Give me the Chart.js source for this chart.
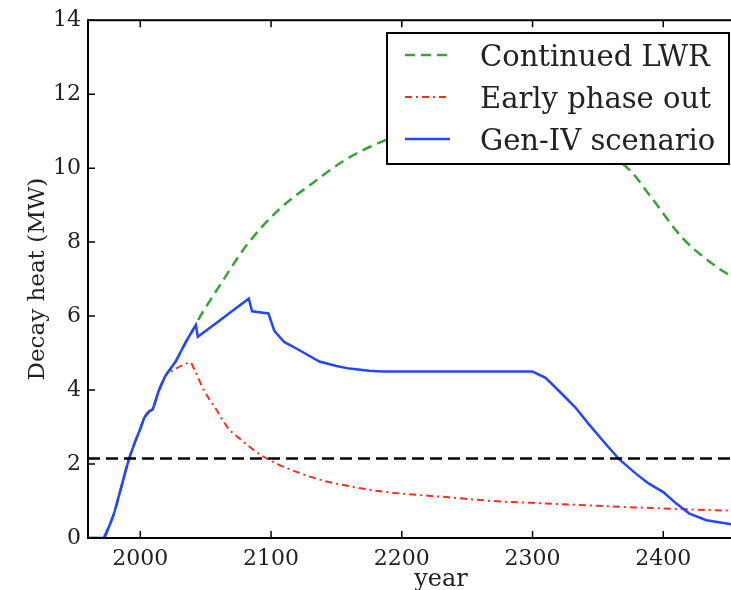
<!DOCTYPE html>
<html><head><meta charset="utf-8">
<script src="https://cdn.jsdelivr.net/npm/chart.js@4/dist/chart.umd.min.js"></script>
<style>
html,body{margin:0;padding:0;background:#fff;overflow:hidden;width:731px;height:590px}
#wrap{position:absolute;left:0;top:0;width:830px;height:600px}
</style>
</head><body><div id="wrap"><canvas id="c" width="830" height="600"></canvas></div>
<script>
// ---- data ----
const xTicks = [2000, 2100, 2200, 2300, 2400, 2500];
const yTicks = [0, 2, 4, 6, 8, 10, 12, 14];

const lwrYears = [1960,1972,1976,1980,1986,1991,1996,2000,2003,2007,2009.5,2014,2019,2027,2035,2042.5,2045,2053,2063,2081,2106,2132,2157,2185,2210,2240,2270,2300,2330,2355,2374,2390,2415,2440,2451,2475,2500];
const lwrHeat  = [0,0,0.3,0.67,1.45,2.1,2.6,2.95,3.25,3.43,3.48,3.97,4.37,4.77,5.31,5.76,5.94,6.4,6.95,7.9,8.88,9.6,10.23,10.72,11.0,11.2,11.25,11.1,10.75,10.4,9.96,9.25,8.1,7.35,7.1,6.6,6.1];

const phaseYears = [1960,1972,1976,1980,1986,1991,1996,2000,2003,2007,2009.5,2014,2019,2026,2033,2038,2042,2049,2058,2067,2078,2091,2105,2120,2140,2160,2180,2200,2236,2270,2300,2350,2400,2450,2500];
const phaseHeat  = [0,0,0.3,0.67,1.45,2.1,2.6,2.95,3.25,3.43,3.48,3.97,4.37,4.55,4.68,4.75,4.5,3.97,3.48,2.98,2.63,2.27,2.0,1.78,1.55,1.4,1.28,1.2,1.1,1.0,0.95,0.87,0.8,0.74,0.7];

const genIVYears = [1960,1972,1976,1980,1986,1991,1996,2000,2003,2007,2009.5,2014,2019,2027,2035,2042.5,2044,2060,2070,2083,2085.5,2098,2102.5,2110,2119,2137,2150,2160,2175,2185,2300,2310,2323,2333,2343,2356,2366,2379,2389,2400,2410,2420,2433,2451,2470,2500];
const genIVHeat  = [0,0,0.3,0.67,1.45,2.1,2.6,2.95,3.25,3.43,3.48,3.97,4.37,4.77,5.31,5.76,5.44,5.86,6.13,6.47,6.13,6.07,5.6,5.3,5.13,4.77,4.65,4.58,4.52,4.5,4.5,4.33,3.88,3.52,3.08,2.54,2.14,1.74,1.47,1.24,0.93,0.66,0.48,0.38,0.3,0.22];

const limitYears = [1960, 2500];
const limitHeat  = [2.15, 2.15];

const seriesLabels = ['Continued LWR', 'Early phase out', 'Gen-IV scenario'];
// ---- end data ----

const zip = (xs, ys) => xs.map((x, i) => ({x: x, y: ys[i]}));
const SERIF = '"DejaVu Serif", "Liberation Serif", serif';

const datasets = [
  {label: seriesLabels[0], data: zip(lwrYears, lwrHeat), borderColor: '#33a533', borderWidth: 2.5, borderDash: [10, 6], cubicInterpolationMode: 'monotone', order: 4, inLegend: true},
  {label: seriesLabels[1], data: zip(phaseYears, phaseHeat), borderColor: '#ff2a1a', borderWidth: 2, borderDash: [7, 4, 2, 4], cubicInterpolationMode: 'monotone', order: 3, inLegend: true},
  {label: seriesLabels[2], data: zip(genIVYears, genIVHeat), borderColor: '#2346ff', borderWidth: 2.5, borderDash: [], order: 2, inLegend: true},
  {label: 'limit', data: zip(limitYears, limitHeat), borderColor: '#000', borderWidth: 2.5, borderDash: [12, 6], order: 1, inLegend: false}
];

const framePlugin = {
  id: 'frame',
  afterDatasetsDraw(chart) {
    const {ctx, chartArea: a, scales: {x, y}} = chart;
    ctx.save();
    ctx.strokeStyle = '#000';
    ctx.lineWidth = 1.5;
    ctx.setLineDash([]);
    ctx.beginPath();
    for (const v of xTicks) {
      const px = x.getPixelForValue(v);
      ctx.moveTo(px, a.bottom); ctx.lineTo(px, a.bottom - 7);
      ctx.moveTo(px, a.top); ctx.lineTo(px, a.top + 7);
    }
    for (const v of yTicks) {
      const py = y.getPixelForValue(v);
      ctx.moveTo(a.left, py); ctx.lineTo(a.left + 7, py);
      ctx.moveTo(a.right, py); ctx.lineTo(a.right - 7, py);
    }
    ctx.stroke();
    ctx.lineWidth = 2;
    ctx.strokeRect(a.left, a.top, a.right - a.left, a.bottom - a.top);

    // legend
    const bx = 387, by = 33, bw = 342, bh = 131;
    ctx.fillStyle = '#fff';
    ctx.fillRect(bx, by, bw, bh);
    ctx.lineWidth = 2;
    ctx.strokeStyle = '#000';
    ctx.strokeRect(bx, by, bw, bh);
    const items = chart.data.datasets.filter(d => d.inLegend);
    ctx.font = '29px ' + SERIF;
    ctx.textAlign = 'left';
    ctx.textBaseline = 'alphabetic';
    items.forEach((d, i) => {
      const ry = by + 22 + i * 42;
      ctx.strokeStyle = d.borderColor;
      ctx.lineWidth = d.borderWidth;
      ctx.setLineDash(d.borderDash || []);
      ctx.beginPath();
      ctx.moveTo(bx + 18, ry); ctx.lineTo(bx + 63, ry);
      ctx.stroke();
      ctx.setLineDash([]);
      ctx.fillStyle = '#222';
      ctx.fillText(d.label, bx + 93, ry + 10.5);
    });
    ctx.restore();
  }
};

new Chart(document.getElementById('c'), {
  type: 'line',
  data: {datasets: datasets},
  options: {
    responsive: false,
    animation: false,
    devicePixelRatio: 1,
    layout: {padding: {top: 16, right: 35, left: 0, bottom: 0}},
    elements: {point: {radius: 0}, line: {tension: 0}},
    plugins: {legend: {display: false}, tooltip: {enabled: false}},
    scales: {
      x: {
        type: 'linear', min: 1960, max: 2500,
        afterBuildTicks: s => { s.ticks = xTicks.map(v => ({value: v})); },
        afterFit: s => { s.height = 62; },
        grid: {display: false, drawTicks: false},
        border: {display: false},
        ticks: {color: '#222', font: {family: SERIF, size: 22}, padding: 8, maxRotation: 0, callback: v => String(v)},
        title: {display: true, text: 'year', color: '#222', font: {family: SERIF, size: 24}, padding: {top: 0, bottom: 6}}
      },
      y: {
        type: 'linear', min: 0, max: 14,
        afterBuildTicks: s => { s.ticks = yTicks.map(v => ({value: v})); },
        afterFit: s => { s.width = 88; },
        grid: {display: false, drawTicks: false},
        border: {display: false},
        ticks: {color: '#222', font: {family: SERIF, size: 22}, padding: 7, callback: v => String(v)},
        title: {display: true, text: 'Decay heat (MW)', color: '#222', font: {family: SERIF, size: 23}, padding: {top: 24, bottom: 0}}
      }
    }
  },
  plugins: [framePlugin]
});
</script>
</body></html>
